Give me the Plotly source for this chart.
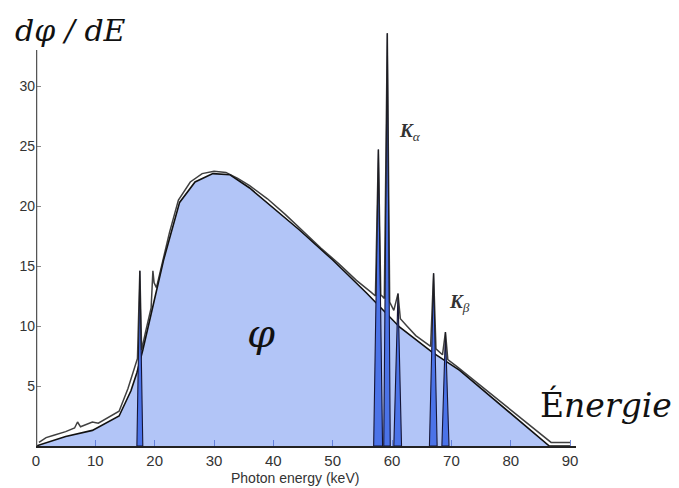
import plotly.graph_objects as go

# Continuum (smooth blue fill), keV vs dphi/dE
cont_E = [0, 2, 5, 9.5, 14, 16, 17, 18, 20, 21.5, 24.2, 26.8, 29.8, 32.7, 36, 38.9,
          44.4, 50, 55.7, 61.3, 66.8, 71.4, 86.5, 90]
cont_y = [0, 0.3, 0.8, 1.3, 2.5, 4.6, 6.1, 8.0, 12.3, 15.5, 20.3, 22.0, 22.7, 22.6, 21.5, 20.3,
          18.0, 15.5, 12.75, 9.9, 7.8, 6.3, 0, 0]

# Measured spectrum (black trace with characteristic lines)
meas_E = [0.5, 1.7, 3, 5, 6.5, 7, 7.5, 8.5, 9.5, 10.5, 12, 14, 15.5, 16.5, 17.1, 17.5, 17.8,
          18.5, 19.4, 19.7, 19.9, 20.3, 21.5, 22.5, 24, 26, 28, 30, 32, 34, 36, 39, 42, 45,
          48, 51, 54, 56.5, 57.2, 57.7, 58.1, 58.7, 59.2, 59.6, 60.3, 61.0, 61.4, 62.5, 64,
          66.5, 67.0, 67.4, 68.5, 69.0, 69.4, 71, 74, 77, 80, 83, 85.5, 86.8, 90]
meas_y = [0.3, 0.7, 0.9, 1.2, 1.5, 2.0, 1.6, 1.8, 2.0, 1.9, 2.3, 2.9, 4.8, 6.4, 7.3, 14.6, 8.0,
          9.6, 11.5, 14.6, 13.6, 13.2, 15.8, 17.8, 20.5, 22.0, 22.7, 22.9, 22.8, 22.3, 21.7, 20.6,
          19.3, 17.9, 16.5, 15.2, 13.8, 12.8, 12.5, 24.7, 12.6, 12.3, 34.4, 12.0, 11.3, 12.7, 10.6,
          10.0, 9.2, 8.3, 14.4, 8.1, 7.6, 9.5, 7.2, 6.6, 5.4, 4.2, 3.0, 1.8, 0.8, 0.3, 0.3]

# Characteristic peaks (blue triangles)
peak_center = [17.5, 57.7, 59.2, 61.0, 67.0, 69.0]
peak_height = [14.6, 24.7, 34.4, 12.7, 14.4, 9.5]
peak_left = [17.0, 56.9, 58.6, 60.3, 66.3, 68.4]
peak_right = [18.0, 58.4, 59.7, 61.6, 67.6, 69.6]

x_ticks = [0, 10, 20, 30, 40, 50, 60, 70, 80, 90]
y_ticks = [5, 10, 15, 20, 25, 30]

fig = go.Figure()

fig.add_trace(go.Scatter(x=cont_E, y=cont_y, mode="lines", fill="tozeroy",
                         fillcolor="rgb(178,197,247)",
                         line=dict(color="#111111", width=1.6), hoverinfo="skip"))

for c, h, l, r in zip(peak_center, peak_height, peak_left, peak_right):
    fig.add_trace(go.Scatter(x=[l, c, r, l], y=[0, h, 0, 0], mode="lines", fill="toself",
                             fillcolor="rgb(75,115,232)",
                             line=dict(color="#151535", width=1.1), hoverinfo="skip"))

fig.add_trace(go.Scatter(x=meas_E, y=meas_y, mode="lines",
                         line=dict(color="rgba(30,30,30,0.85)", width=1.5), hoverinfo="skip"))

fig.add_shape(type="line", x0=0, x1=0, y0=0, y1=33, xref="x", yref="y",
              line=dict(color="#555555", width=2.5))

serif = "DejaVu Serif"
fig.add_annotation(x=-0.043, y=0.99, xref="paper", yref="paper", xanchor="left", yanchor="middle",
                   text="<i>dφ / dE</i>", showarrow=False,
                   font=dict(family=serif, size=30, color="#111111"))
fig.add_annotation(x=37.9, y=9.4, xref="x", yref="y", text="<i>φ</i>", showarrow=False,
                   font=dict(family=serif, size=40, color="#111111"))
fig.add_annotation(x=84.6, y=3.4, xref="x", yref="y", xanchor="left", yanchor="middle",
                   text="É<i>nergie</i>", showarrow=False,
                   font=dict(family=serif, size=33, color="#111111"))
fig.add_annotation(x=63.0, y=26.2, xref="x", yref="y", text="<b><i>K</i></b><sub><i>α</i></sub>",
                   showarrow=False, font=dict(family="Liberation Serif", size=19, color="#333333"))
fig.add_annotation(x=71.4, y=11.9, xref="x", yref="y", text="<b><i>K</i></b><sub><i>β</i></sub>",
                   showarrow=False, font=dict(family="Liberation Serif", size=19, color="#333333"))
fig.add_annotation(x=0.48, y=-0.076, xref="paper", yref="paper", xanchor="center",
                   yanchor="middle", text="Photon energy (keV)",
                   showarrow=False, font=dict(family="Liberation Sans", size=14, color="#333333"))

# page body adds an 8px offset, so the figure is sized to fit the 679x488 window
fig.update_layout(
    width=671, height=480,
    margin=dict(l=28, r=103, t=18, b=42),
    paper_bgcolor="white", plot_bgcolor="white",
    showlegend=False,
    xaxis=dict(range=[0, 91], tickvals=x_ticks, ticks="inside", ticklen=6,
               tickcolor="rgba(80,110,210,0.8)", showgrid=False, zeroline=False,
               showline=True, linecolor="#222222", linewidth=1.6,
               tickfont=dict(family="Liberation Sans", size=15, color="#333333")),
    yaxis=dict(range=[0, 35], tickvals=y_ticks, ticks="inside", ticklen=5,
               tickcolor="#888888", showgrid=False, zeroline=False, showline=False,
               tickfont=dict(family="Liberation Sans", size=14, color="#333333")),
)

fig.write_html("out.html")
